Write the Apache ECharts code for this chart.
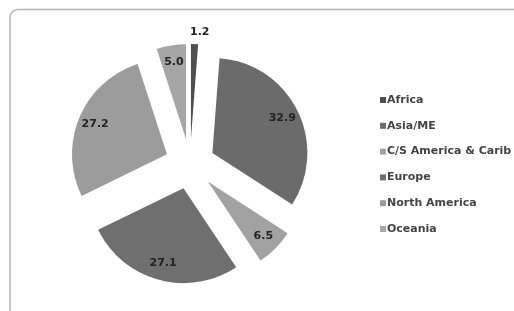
<!DOCTYPE html>
<html>
<head>
<meta charset="utf-8">
<script src="https://cdn.jsdelivr.net/npm/echarts@6/dist/echarts.min.js"></script>
<style>
html,body{margin:0;padding:0;background:#fff;}
#c{width:514px;height:311px;}
</style>
</head>
<body>
<div id="c"></div>
<script>
var categories = ['Africa', 'Asia/ME', 'C/S America & Carib', 'Europe', 'North America', 'Oceania'];
var values = [1.2, 32.9, 6.5, 27.1, 27.2, 5.0];
var colors = ['#4e4e4e', '#6b6b6b', '#a2a2a2', '#6f6f6f', '#9c9c9c', '#a6a6a6'];

var chart = echarts.init(document.getElementById('c'), null, {renderer: 'canvas'});

var mainData = categories.map(function (name, i) {
  var item = {name: name, value: values[i], selected: true, itemStyle: {color: colors[i]}};
  if (i === 0) {
    item.label = {show: true, position: 'outside'};
    item.labelLine = {show: false, length: 6, length2: 0};
  }
  return item;
});
var labelData = categories.map(function (name, i) {
  var item = {name: name, value: values[i], selected: true};
  if (i === 0) item.label = {show: false};
  return item;
});

var labelFmt = function (p) { return p.value.toFixed(1); };
var labelStyle = {fontFamily: 'DejaVu Sans', fontSize: 11, fontWeight: 'bold', color: '#222'};

chart.setOption({
  animation: false,
  backgroundColor: '#fff',
  graphic: [{
    type: 'rect',
    shape: {x: 10, y: 9.5, width: 520, height: 320, r: 8},
    style: {fill: 'none', stroke: '#b3b3b3', lineWidth: 1.5},
    silent: true
  }],
  legend: {
    orient: 'vertical',
    left: 375,
    top: 89,
    data: categories,
    icon: 'rect',
    itemWidth: 6,
    itemHeight: 6,
    itemGap: 13.8,
    selectedMode: false,
    textStyle: {fontFamily: 'DejaVu Sans', fontSize: 11, fontWeight: 'bold', color: '#444', lineHeight: 12, padding: [0, 0, 0, -4]}
  },
  series: [{
    type: 'pie',
    center: [190, 164],
    radius: [0, 95],
    startAngle: 90,
    clockwise: true,
    selectedMode: 'multiple',
    selectedOffset: 25,
    silent: true,
    label: Object.assign({show: false, formatter: labelFmt}, labelStyle),
    labelLine: {show: false},
    labelLayout: {align: 'center', verticalAlign: 'bottom'},
    emphasis: {disabled: true},
    data: mainData
  }, {
    type: 'pie',
    center: [190, 164],
    radius: [0, 150],
    startAngle: 90,
    clockwise: true,
    selectedMode: 'multiple',
    selectedOffset: 25,
    silent: true,
    legendHoverLink: false,
    itemStyle: {color: 'rgba(0,0,0,0)'},
    label: Object.assign({show: true, position: 'inside', formatter: labelFmt}, labelStyle),
    labelLine: {show: false},
    emphasis: {disabled: true},
    data: labelData
  }]
});
</script>
</body>
</html>
